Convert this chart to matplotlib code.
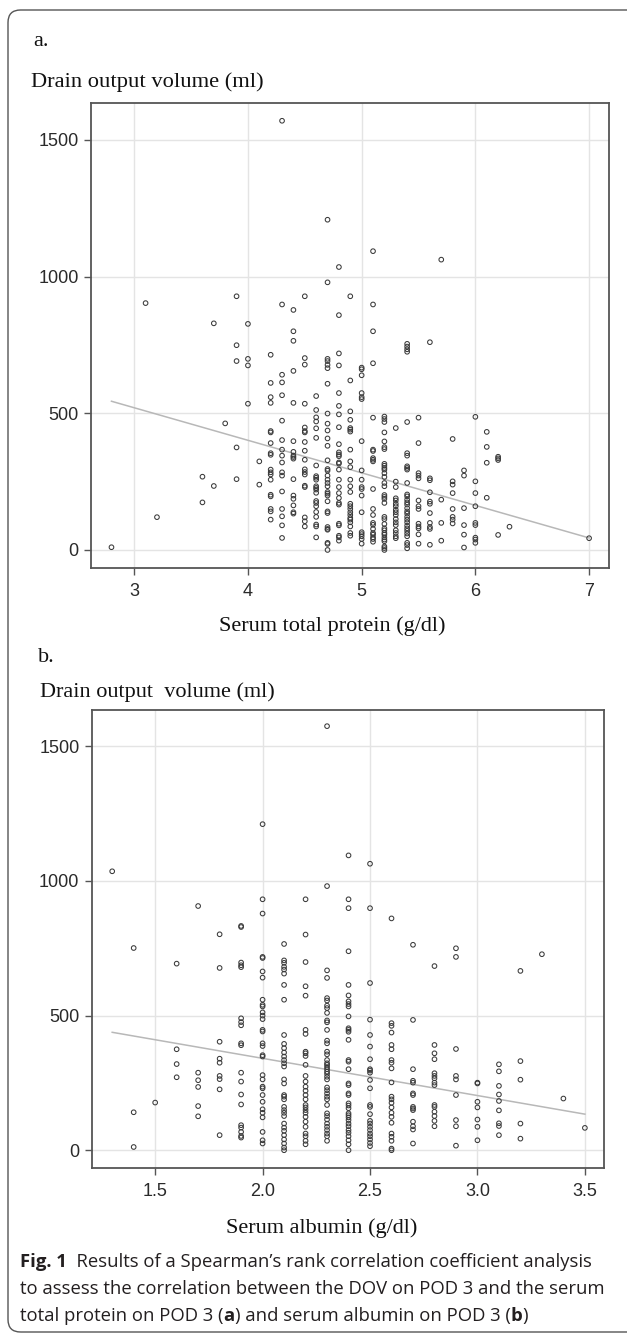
import numpy as np
import matplotlib
matplotlib.use("Agg")
import matplotlib.pyplot as plt
from matplotlib.patches import FancyBboxPatch

# ---------------- data: panel a (serum total protein) ----------------
protein_levels = [2.8, 3.1, 3.2, 3.6, 3.7, 3.8, 3.9, 4.0, 4.1, 4.2, 4.3, 4.4, 4.5, 4.6, 4.7,
                  4.8, 4.9, 5.0, 5.1, 5.2, 5.3, 5.4, 5.5, 5.6, 5.7, 5.8, 5.9, 6.0, 6.1,
                  6.2, 6.3, 7.0]
protein_dov = [
    [10],
    [903],
    [120],
    [268, 174],
    [829, 234],
    [463],
    [928, 749, 691, 375, 259],
    [827, 699, 675, 535],
    [324, 239],
    [714, 611, 559, 538, 435, 430, 391, 354, 348, 294, 284, 276, 257, 202, 196, 150, 141, 111],
    [1570, 898, 641, 613, 566, 473, 402, 367, 345, 320, 284, 272, 214, 150, 123, 90, 44],
    [878, 800, 765, 655, 538, 398, 359, 345, 340, 334, 259, 199, 187, 163, 138, 133],
    [928, 702, 678, 535, 448, 435, 430, 395, 363, 330, 295, 285, 276, 235, 230, 119, 105, 86],
    [563, 512, 485, 470, 445, 410, 309, 270, 264, 257, 233, 227, 221, 209, 179, 172, 160, 139,
     121, 93, 86, 46],
    [1208, 979, 699, 691, 677, 665, 608, 499, 462, 437, 408, 381, 328, 296, 290, 272, 257, 245,
     233, 212, 206, 199, 178, 141, 135, 84, 77, 74, 26, 22, 0],
    [1035, 859, 719, 675, 574, 527, 496, 449, 387, 357, 349, 343, 320, 316, 294, 257, 230, 208,
     190, 172, 166, 96, 90, 52, 46, 34],
    [928, 620, 507, 476, 446, 440, 433, 367, 324, 303, 257, 233, 212, 169, 160, 150, 138, 128,
     117, 111, 101, 86, 62, 52],
    [667, 661, 639, 574, 559, 552, 398, 291, 257, 230, 223, 199, 138, 65, 58, 50, 40, 23],
    [1093, 898, 800, 683, 484, 367, 362, 336, 330, 324, 223, 150, 128, 99, 92, 77, 62, 56, 46,
     40, 30],
    [488, 479, 468, 430, 397, 376, 369, 315, 308, 300, 294, 281, 267, 245, 233, 201, 194, 187,
     172, 121, 113, 95, 79, 72, 62, 56, 46, 38, 32, 13, 7, 0],
    [446, 250, 230, 189, 181, 169, 160, 147, 138, 128, 113, 101, 91, 72, 62, 50, 43],
    [754, 744, 734, 725, 468, 354, 345, 306, 300, 294, 245, 203, 196, 184, 174, 166, 153, 141,
     133, 121, 111, 101, 89, 79, 70, 60, 50, 26, 18, 6],
    [484, 391, 281, 272, 262, 181, 160, 150, 96, 86, 79, 57, 23],
    [760, 262, 255, 211, 177, 169, 135, 99, 84, 77, 19],
    [1062, 184, 99, 34],
    [406, 251, 239, 208, 150, 121, 111, 97],
    [291, 272, 153, 91, 56, 9],
    [487, 251, 208, 160, 99, 91, 45, 38, 26],
    [432, 377, 319, 191],
    [341, 335, 329, 55],
    [85],
    [43],
]
protein_fit_x = [2.8, 7.0]
protein_fit_y = [544, 44]
protein_xticks = [3, 4, 5, 6, 7]

# ---------------- data: panel b (serum albumin) ----------------
albumin_levels = [1.3, 1.4, 1.5, 1.6, 1.7, 1.8, 1.9, 2.0, 2.1, 2.2, 2.3, 2.4, 2.5, 2.6, 2.7,
                  2.8, 2.9, 3.0, 3.1, 3.2, 3.3, 3.4, 3.5]
albumin_dov = [
    [1036],
    [751, 141, 12],
    [177],
    [693, 375, 320, 271],
    [907, 288, 260, 235, 164, 126],
    [802, 677, 403, 340, 325, 276, 264, 226, 56],
    [833, 829, 697, 687, 680, 490, 476, 464, 397, 390, 288, 255, 207, 170, 93, 84, 68, 53, 47],
    [1211, 932, 879, 718, 714, 664, 641, 559, 540, 534, 512, 500, 487, 447, 441, 397, 387, 353,
     348, 279, 263, 236, 230, 205, 180, 152, 139, 122, 68, 37, 25],
    [766, 705, 696, 681, 671, 656, 614, 559, 428, 395, 379, 363, 348, 335, 323, 311, 263, 248,
     205, 199, 189, 161, 149, 139, 127, 99, 84, 72, 56, 40, 25, 10, 0],
    [932, 801, 699, 609, 574, 447, 432, 366, 360, 350, 317, 276, 255, 236, 221, 205, 189, 168,
     159, 149, 139, 124, 106, 87, 62, 52, 35, 22],
    [1575, 981, 668, 640, 565, 556, 537, 528, 510, 482, 475, 447, 407, 397, 366, 356, 335, 323,
     317, 309, 301, 292, 284, 273, 263, 233, 223, 211, 199, 189, 168, 137, 127, 114, 99, 87, 75,
     62, 52, 35],
    [1095, 932, 899, 739, 614, 575, 553, 543, 534, 497, 453, 447, 440, 410, 335, 329, 301, 248,
     242, 211, 205, 174, 166, 156, 137, 130, 122, 112, 99, 89, 75, 65, 52, 37, 22, 0],
    [1064, 899, 621, 485, 428, 385, 338, 301, 296, 288, 261, 230, 168, 161, 134, 109, 99, 87, 75,
     62, 52, 40, 27, 15],
    [861, 472, 462, 437, 391, 375, 335, 325, 304, 252, 199, 189, 176, 159, 139, 124, 102, 62, 50,
     35, 6, 0],
    [763, 484, 301, 258, 251, 211, 205, 161, 155, 149, 106, 89, 77, 25],
    [684, 391, 360, 338, 286, 276, 267, 251, 242, 168, 161, 143, 127, 109, 89],
    [750, 718, 376, 276, 263, 205, 112, 89, 17],
    [251, 248, 180, 159, 114, 87, 37],
    [319, 293, 239, 207, 183, 148, 100, 90, 56],
    [666, 331, 262, 99, 43],
    [728],
    [192],
    [83],
]
albumin_fit_x = [1.3, 3.5]
albumin_fit_y = [438, 134]
albumin_xticks = [1.5, 2.0, 2.5, 3.0, 3.5]
albumin_xticklabels = ["1.5", "2.0", "2.5", "3.0", "3.5"]

yticks = [0, 500, 1000, 1500]

caption_line1 = "  Results of a Spearman\u2019s rank correlation coefficient analysis"
caption_line2 = "to assess the correlation between the DOV on POD 3 and the serum"
caption_line3_parts = ["total protein on POD 3 (", "a", ") and serum albumin on POD 3 (", "b", ")"]

# ---------------- figure ----------------
W, H = 627, 1335
fig = plt.figure(figsize=(W / 100, H / 100), dpi=100)

SERIF = ["Liberation Serif", "DejaVu Serif"]
SANS = ["Liberation Sans", "DejaVu Sans"]
CAP = ["Open Sans", "DejaVu Sans"]


def fx(px):
    return px / W


def fy(py):
    return 1 - py / H


def flatten(levels, groups):
    xs, ys = [], []
    for lv, g in zip(levels, groups):
        xs.extend([lv] * len(g))
        ys.extend(g)
    return np.array(xs), np.array(ys)


def panel(rect, levels, groups, fit_x, fit_y, xlim, xticks, xticklabels):
    l, t, r, b = rect
    ax = fig.add_axes([fx(l), fy(b), (r - l) / W, (b - t) / H])
    xs, ys = flatten(levels, groups)
    ax.set_xlim(*xlim)
    ax.set_ylim(-66, 1635)
    ax.set_xticks(xticks)
    ax.set_xticklabels(xticklabels)
    ax.set_yticks(yticks)
    ax.grid(True, color="#e4e4e4", lw=1.0)
    ax.set_axisbelow(True)
    ax.plot(fit_x, fit_y, color="#b8b8b8", lw=1.1, zorder=2)
    ax.scatter(xs, ys, s=11, facecolors="none", edgecolors="#3a3a3a", linewidths=0.75, zorder=3)
    for sp in ax.spines.values():
        sp.set_color("#555555")
        sp.set_linewidth(1.3)
    ax.tick_params(axis="both", direction="out", length=5, width=1.0, color="#555555",
                   labelsize=13, labelcolor="#2a2a2a", pad=4)
    ax.tick_params(axis="x", pad=6)
    for lab in ax.get_xticklabels() + ax.get_yticklabels():
        lab.set_family(SANS)
    return ax


panel((91, 103, 609, 568), protein_levels, protein_dov, protein_fit_x, protein_fit_y,
      (2.62, 7.175), protein_xticks, [str(v) for v in protein_xticks])
panel((92, 710, 604, 1168), albumin_levels, albumin_dov, albumin_fit_x, albumin_fit_y,
      (1.206, 3.589), albumin_xticks, albumin_xticklabels)

# panel labels and axis titles
fig.text(fx(33), fy(42), "a.", family=SERIF, fontsize=16, va="center", ha="left", color="#111111")
fig.text(fx(31), fy(82), "Drain output volume (ml)", family=SERIF, fontsize=16.2, va="center",
         ha="left", color="#111111")
fig.text(fx(332), fy(626), "Serum total protein (g/dl)", family=SERIF, fontsize=16, va="center",
         ha="center", color="#111111")
fig.text(fx(38), fy(657), "b.", family=SERIF, fontsize=16, va="center", ha="left", color="#111111")
fig.text(fx(40), fy(692), "Drain output  volume (ml)", family=SERIF, fontsize=16, va="center",
         ha="left", color="#111111")
fig.text(fx(322), fy(1228), "Serum albumin (g/dl)", family=SERIF, fontsize=16, va="center",
         ha="center", color="#111111")

# caption
cap_size = 13.3
t = fig.text(fx(20), fy(1262), "Fig. 1", family=CAP, fontsize=cap_size, fontweight="bold",
             va="center", ha="left", color="#231f20")
fig.canvas.draw()
renderer = fig.canvas.get_renderer()
bb = t.get_window_extent(renderer)
fig.text(bb.x1 / W, fy(1262), caption_line1, family=CAP, fontsize=cap_size, va="center",
         ha="left", color="#231f20")
fig.text(fx(20), fy(1289), caption_line2, family=CAP, fontsize=cap_size, va="center", ha="left",
         color="#231f20")
x0 = 20
for i, part in enumerate(caption_line3_parts):
    tt = fig.text(x0 / W, fy(1316), part, family=CAP, fontsize=cap_size,
                  fontweight="bold" if part in ("a", "b") else "normal",
                  va="center", ha="left", color="#231f20")
    fig.canvas.draw()
    x0 = tt.get_window_extent(renderer).x1

# outer rounded frame (right side runs off the image)
frame = FancyBboxPatch((fx(8), fy(1332)), (1200 - 8) / W, (1332 - 10) / H,
                       boxstyle="round,pad=0,rounding_size=0.02", transform=fig.transFigure,
                       facecolor="none", edgecolor="#555555", lw=1.0, mutation_aspect=W / H)
fig.patches.append(frame)

fig.savefig("out.png", dpi=100)
